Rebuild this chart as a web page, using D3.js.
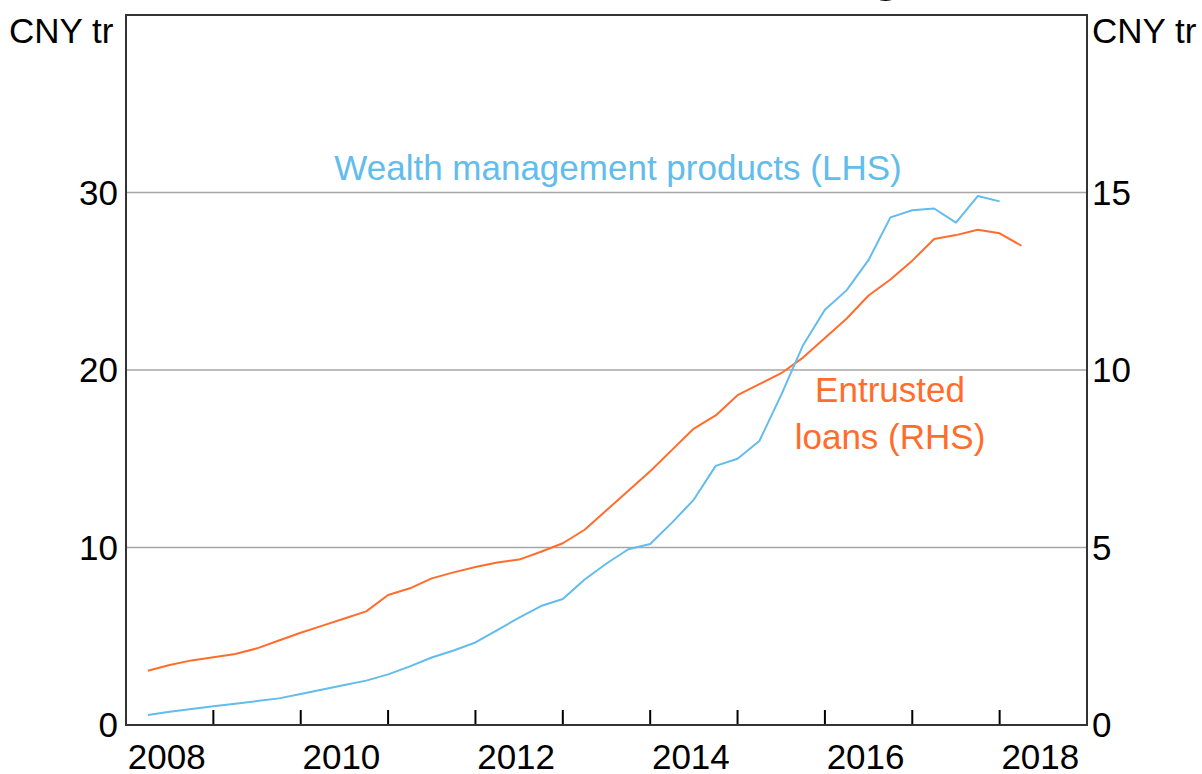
<!DOCTYPE html>
<html><head><meta charset="utf-8">
<script src="https://cdn.jsdelivr.net/npm/d3@7"></script>
<style>
html,body{margin:0;padding:0;background:#fff;}
text{font-family:"Liberation Sans",Arial,sans-serif;}
</style></head>
<body>
<svg id="chart" width="1202" height="774"></svg>
<script>
// Quarterly dates (decimal years)
const wmpDates = [2008.25,2008.5,2008.75,2009,2009.25,2009.5,2009.75,2010,2010.25,2010.5,2010.75,2011,2011.25,2011.5,2011.75,2012,2012.25,2012.5,2012.75,2013,2013.25,2013.5,2013.75,2014,2014.25,2014.5,2014.75,2015,2015.25,2015.5,2015.75,2016,2016.25,2016.5,2016.75,2017,2017.25,2017.5,2017.75,2018];
const wmpValues = [0.56,0.75,0.9,1.05,1.2,1.35,1.5,1.75,2.0,2.25,2.5,2.85,3.3,3.8,4.2,4.65,5.35,6.05,6.7,7.1,8.2,9.1,9.9,10.2,11.4,12.7,14.6,15.0,16.0,18.6,21.4,23.4,24.5,26.2,28.6,29.0,29.1,28.3,29.8,29.5];
const loanDates = [2008.25,2008.5,2008.75,2009,2009.25,2009.5,2009.75,2010,2010.25,2010.5,2010.75,2011,2011.25,2011.5,2011.75,2012,2012.25,2012.5,2012.75,2013,2013.25,2013.5,2013.75,2014,2014.25,2014.5,2014.75,2015,2015.25,2015.5,2015.75,2016,2016.25,2016.5,2016.75,2017,2017.25,2017.5,2017.75,2018,2018.25];
const loanValues = [1.53,1.69,1.82,1.91,2.0,2.16,2.38,2.6,2.8,3.0,3.2,3.66,3.85,4.13,4.3,4.45,4.58,4.66,4.88,5.12,5.5,6.05,6.6,7.15,7.75,8.35,8.72,9.29,9.6,9.91,10.35,10.9,11.45,12.1,12.55,13.08,13.69,13.8,13.95,13.85,13.5];
const yearTicks = [2009,2010,2011,2012,2013,2014,2015,2016,2017,2018];
const yearLabels = ["2008","2010","2012","2014","2016","2018"];
const leftTicks = [0,10,20,30];
const rightTicks = [0,5,10,15];
const unitLabel = "CNY tr";
const wmpLabel = "Wealth management products (LHS)";
const loanLabel = ["Entrusted","loans (RHS)"];
const titleText = "Shadow Banking";

const blue = "#62bcec", orange = "#ff6d2c";
const L = 126, R = 1087, T = 15, B = 725;
const svg = d3.select("#chart");
const x = d3.scaleLinear().domain([2008, 2019]).range([L, R]);
const yL = d3.scaleLinear().domain([0, 40]).range([B, T]);
const yR = d3.scaleLinear().domain([0, 20]).range([B, T]);
const fs = 35;

// Title (mostly cut off at the top of the picture)
svg.append("text").attr("x", 902).attr("y", -10).attr("text-anchor", "end")
  .attr("font-size", 52).attr("font-weight", "bold").attr("fill", "#000").text(titleText);

// gridlines
svg.append("g").selectAll("line").data(leftTicks.filter(d => d > 0)).join("line")
  .attr("x1", L).attr("x2", R).attr("y1", d => yL(d)).attr("y2", d => yL(d))
  .attr("stroke", "#a6a6a6").attr("stroke-width", 1.5);

// x ticks (inward)
svg.append("g").selectAll("line").data(yearTicks).join("line")
  .attr("x1", d => x(d)).attr("x2", d => x(d)).attr("y1", B).attr("y2", B - 15)
  .attr("stroke", "#000").attr("stroke-width", 2);

// lines
const lineL = d3.line().x(d => x(d[0])).y(d => yL(d[1]));
const lineR = d3.line().x(d => x(d[0])).y(d => yR(d[1]));
svg.append("path").datum(loanDates.map((d, i) => [d, loanValues[i]]))
  .attr("d", lineR).attr("fill", "none").attr("stroke", orange).attr("stroke-width", 2)
  .attr("stroke-linejoin", "round");
svg.append("path").datum(wmpDates.map((d, i) => [d, wmpValues[i]]))
  .attr("d", lineL).attr("fill", "none").attr("stroke", blue).attr("stroke-width", 2)
  .attr("stroke-linejoin", "round");

// frame
svg.append("rect").attr("x", L).attr("y", T).attr("width", R - L).attr("height", B - T)
  .attr("fill", "none").attr("stroke", "#333").attr("stroke-width", 2);

// x labels
svg.append("g").selectAll("text").data(yearLabels).join("text")
  .attr("x", d => x(+d + 0.5) - 3).attr("y", 769).attr("text-anchor", "middle")
  .attr("font-size", fs).attr("fill", "#000").text(d => d);

// left labels
svg.append("g").selectAll("text").data(leftTicks).join("text")
  .attr("x", 118).attr("y", d => yL(d) + 12).attr("text-anchor", "end")
  .attr("font-size", fs).attr("fill", "#000").text(d => d);
// right labels
svg.append("g").selectAll("text").data(rightTicks).join("text")
  .attr("x", 1092).attr("y", d => yR(d) + 12).attr("text-anchor", "start")
  .attr("font-size", fs).attr("fill", "#000").text(d => d);

// units
svg.append("text").attr("x", 9).attr("y", 43).attr("font-size", fs).attr("fill", "#000").text(unitLabel);
svg.append("text").attr("x", 1092).attr("y", 43).attr("font-size", fs).attr("fill", "#000").text(unitLabel);

// series labels
svg.append("text").attr("x", 618).attr("y", 180).attr("text-anchor", "middle")
  .attr("font-size", fs).attr("fill", blue).text(wmpLabel);
svg.append("g").selectAll("text").data(loanLabel).join("text")
  .attr("x", 890).attr("y", (d, i) => 402 + i * 47).attr("text-anchor", "middle")
  .attr("font-size", fs).attr("fill", orange).text(d => d);
</script>
</body></html>
